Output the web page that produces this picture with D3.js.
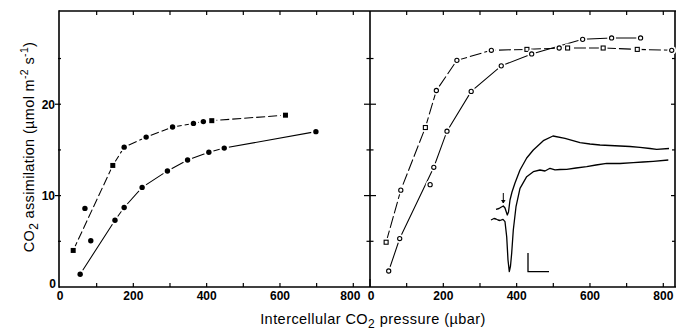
<!DOCTYPE html>
<html><head><meta charset="utf-8">
<script src="https://cdn.jsdelivr.net/npm/d3@7"></script>
<style>html,body{margin:0;padding:0;background:#fff}svg{display:block}</style>
</head><body><svg id="c" width="676" height="332"></svg>
<script>
// ---------- data ----------
const xTickLabels = [0, 200, 400, 600, 800];
const xMinorTicks = [100, 200, 300, 400, 500, 600, 700, 800];
const yTickLabels = [0, 10, 20];
const yMinorTicks = [5, 15, 25];

// left panel (closed symbols)
const leftUpperX = [36, 144, 175, 235, 307, 364, 391, 414, 615];
const leftUpperY = [4.0, 13.3, 15.3, 16.4, 17.5, 17.9, 18.1, 18.2, 18.8];
const leftUpperOffX = [68];
const leftUpperOffY = [8.6];
const leftLowerX = [55, 150, 175, 224, 293, 348, 406, 448, 698];
const leftLowerY = [1.4, 7.3, 8.7, 10.9, 12.7, 13.9, 14.75, 15.2, 17.0];
const leftLowerOffX = [84];
const leftLowerOffY = [5.06];

// right panel (open symbols)
const rightUpperX = [44, 84, 151, 181, 237, 331, 428, 516, 539, 636, 729, 823];
const rightUpperY = [4.9, 10.6, 17.45, 21.5, 24.8, 25.9, 26.0, 26.15, 26.15, 26.15, 26.0, 25.9];
const rightLowerX = [51, 81, 174, 210, 276, 358, 441, 580, 659, 738];
const rightLowerY = [1.75, 5.3, 13.1, 17.05, 21.4, 24.2, 25.5, 27.1, 27.25, 27.25];
const rightLowerOffX = [164];
const rightLowerOffY = [11.2];

// inset recorder traces (time, signal; arbitrary units)
const insetUpperT = [6, 9, 11, 13.3, 15, 17.3, 18.5, 20, 22, 25, 30, 36.7, 43.3, 53.3, 63, 75, 90, 100, 110, 120, 130, 140, 150, 160, 166.7, 179];
const insetUpperS = [65.7, 66.5, 67.7, 69, 67, 60, 63, 75, 83, 92, 105, 117, 125, 134.3, 139, 136.7, 132.3, 131, 130, 129.5, 129, 128.5, 127.7, 126.5, 125.7, 126.5];
const insetLowerT = [1, 4, 6, 8, 10, 13, 15, 16.7, 18, 19.3, 20.5, 21.7, 23.3, 26, 30, 36.7, 43.3, 50, 55, 60, 65, 70, 76.7, 86, 96.7, 106, 116.7, 130, 143.3, 153, 163.3, 178.3];
const insetLowerS = [55, 56.5, 56, 55, 54.5, 55.7, 53.3, 38.3, 15, 3.3, 9, 22, 45, 68.3, 86.7, 98.3, 103.3, 105, 104, 106.7, 105.2, 105.5, 105.7, 107, 108.3, 110, 111.7, 111.5, 112.3, 113, 113.7, 115];
const scaleBarT = [38, 38, 59];
const scaleBarS = [22, 3.3, 3.3];
const arrowT = [13.3, 13.3];
const arrowS = [82, 72];

// ---------- drawing ----------
const svg = d3.select("#c");
const font = "'Liberation Sans', Arial, Helvetica, sans-serif";
const y = d3.scaleLinear([0, 30.2], [287, 11]);
const xL = d3.scaleLinear([0, 800], [60, 353.3]);
const xR = d3.scaleLinear([0, 800], [370, 663.3]);
const tX = d3.scaleLinear([0, 180], [490, 670]);
const tY = d3.scaleLinear([0, 145], [275, 130]);

const T = 11, B = 287, L = 59, D = 370, R = 675;

// frame
const frame = svg.append("g").attr("stroke", "#000").attr("stroke-width", 1.6).attr("fill", "none");
frame.append("line").attr("x1", L).attr("x2", L).attr("y1", T - 0.8).attr("y2", B + 0.8);
frame.append("line").attr("x1", D).attr("x2", D).attr("y1", T).attr("y2", B);
frame.append("line").attr("x1", R).attr("x2", R).attr("y1", T).attr("y2", B);
frame.append("line").attr("x1", L).attr("x2", 676).attr("y1", T).attr("y2", T);
frame.append("line").attr("x1", L).attr("x2", 676).attr("y1", B).attr("y2", B);

// ticks
const tk = svg.append("g").attr("stroke", "#000").attr("stroke-width", 1.2);
[xL, xR].forEach(sc => {
  xMinorTicks.forEach(v => {
    const px = sc(v);
    tk.append("line").attr("x1", px).attr("x2", px).attr("y1", B).attr("y2", B - 4);
    tk.append("line").attr("x1", px).attr("x2", px).attr("y1", T).attr("y2", T + 4);
  });
});
tk.append("line").attr("x1", D).attr("x2", D).attr("y1", B).attr("y2", B - 8);
yTickLabels.filter(v => v > 0).forEach(v => {
  tk.append("line").attr("x1", L - 4).attr("x2", L + 2).attr("y1", y(v)).attr("y2", y(v));
  tk.append("line").attr("x1", D - 6).attr("x2", D + 6).attr("y1", y(v)).attr("y2", y(v));
  tk.append("line").attr("x1", R - 4).attr("x2", R).attr("y1", y(v)).attr("y2", y(v));
});
yMinorTicks.forEach(v => {
  tk.append("line").attr("x1", L - 1).attr("x2", L + 2).attr("y1", y(v)).attr("y2", y(v));
  tk.append("line").attr("x1", D - 3.5).attr("x2", D + 3.5).attr("y1", y(v)).attr("y2", y(v));
  tk.append("line").attr("x1", R - 3).attr("x2", R).attr("y1", y(v)).attr("y2", y(v));
});

// tick labels
const lab = svg.append("g").attr("font-family", font).attr("font-weight", "bold").attr("font-size", 12).attr("fill", "#000");
xTickLabels.forEach(v => {
  lab.append("text").attr("x", xL(v) - (v === 800 ? 3 : 0)).attr("y", 300).attr("text-anchor", "middle").text(v);
  lab.append("text").attr("x", xR(v) + (v === 0 ? 1 : 0)).attr("y", 300).attr("text-anchor", "middle").text(v);
});
yTickLabels.forEach(v => {
  lab.append("text").attr("x", v === 0 ? 56 : 55).attr("y", y(v) + (v === 0 ? 1 : 4.3)).attr("text-anchor", "end").text(v);
});

// axis titles
const yt = svg.append("text").attr("font-family", font).attr("font-size", 14.5).attr("letter-spacing", 0.35)
  .attr("transform", "translate(34,147) rotate(-90)").attr("text-anchor", "middle");
yt.append("tspan").text("CO");
yt.append("tspan").attr("dy", 4).attr("font-size", 12).text("2");
yt.append("tspan").attr("dy", -4).text(" assimilation (µmol m");
yt.append("tspan").attr("dy", -6).attr("font-size", 10.5).text("-2");
yt.append("tspan").attr("dy", 6).text(" s");
yt.append("tspan").attr("dy", -6).attr("font-size", 10.5).text("-1");
yt.append("tspan").attr("dy", 6).text(")");

const xt = svg.append("text").attr("font-family", font).attr("font-size", 14.5).attr("letter-spacing", 0.45)
  .attr("x", 373).attr("y", 324).attr("text-anchor", "middle");
xt.append("tspan").text("Intercellular CO");
xt.append("tspan").attr("dy", 4).attr("font-size", 12).text("2");
xt.append("tspan").attr("dy", -4).text("  pressure (µbar)");

// series helpers
function pts(xs, ys) { return xs.map((v, i) => [v, ys[i]]); }
function drawLine(sc, data, dash) {
  svg.append("path").datum(data)
    .attr("d", d3.line().x(d => sc(d[0])).y(d => y(d[1])).curve(d3.curveLinear))
    .attr("fill", "none").attr("stroke", "#000").attr("stroke-width", 1.05)
    .attr("stroke-dasharray", dash || null);
}
function drawMarks(sc, data, shapes, open) {
  const g = svg.append("g");
  data.forEach((d, i) => {
    const cx = sc(d[0]), cy = y(d[1]);
    const sq = shapes[i] === "s";
    g.append("circle").attr("cx", cx).attr("cy", cy).attr("r", open ? 4.4 : 4.8).attr("fill", "#fff");
    if (sq) {
      const s = open ? 4 : 5;
      g.append("rect").attr("x", cx - s / 2).attr("y", cy - s / 2).attr("width", s).attr("height", s)
        .attr("fill", open ? "#fff" : "#000").attr("stroke", "#000").attr("stroke-width", open ? 1.1 : 0);
    } else {
      g.append("circle").attr("cx", cx).attr("cy", cy).attr("r", open ? 2.1 : 2.7)
        .attr("fill", open ? "#fff" : "#000").attr("stroke", "#000").attr("stroke-width", open ? 1.1 : 0);
    }
  });
}

const lu = pts(leftUpperX, leftUpperY), ll = pts(leftLowerX, leftLowerY);
const ru = pts(rightUpperX, rightUpperY), rl = pts(rightLowerX, rightLowerY);
drawLine(xL, lu, "9,3");
drawLine(xL, ll, null);
drawLine(xR, ru, "12,3");
drawLine(xR, rl, null);
drawMarks(xL, lu, ["s","s","c","c","c","c","c","s","s"], false);
drawMarks(xL, pts(leftUpperOffX, leftUpperOffY), ["c"], false);
drawMarks(xL, ll, ll.map(() => "c"), false);
drawMarks(xL, pts(leftLowerOffX, leftLowerOffY), ["c"], false);
drawMarks(xR, ru, ["s","c","s","c","c","c","s","c","s","s","s","c"], true);
drawMarks(xR, rl, rl.map(() => "c"), true);
drawMarks(xR, pts(rightLowerOffX, rightLowerOffY), ["c"], true);

// inset traces
const tline = d3.line().x(d => tX(d[0])).y(d => tY(d[1]));
[pts(insetUpperT, insetUpperS), pts(insetLowerT, insetLowerS), pts(scaleBarT, scaleBarS)].forEach(dd => {
  svg.append("path").datum(dd).attr("d", tline).attr("fill", "none").attr("stroke", "#000")
    .attr("stroke-width", 1.3).attr("stroke-linejoin", "round");
});
const ar = pts(arrowT, arrowS);
svg.append("path").datum(ar).attr("d", tline).attr("stroke", "#000").attr("stroke-width", 1);
svg.append("path").attr("d", d3.line()([[tX(arrowT[1]) - 1.8, tY(arrowS[1]) - 3], [tX(arrowT[1]), tY(arrowS[1])], [tX(arrowT[1]) + 1.8, tY(arrowS[1]) - 3]]))
  .attr("fill", "#000").attr("stroke", "#000").attr("stroke-width", 0.8);
</script></body></html>
